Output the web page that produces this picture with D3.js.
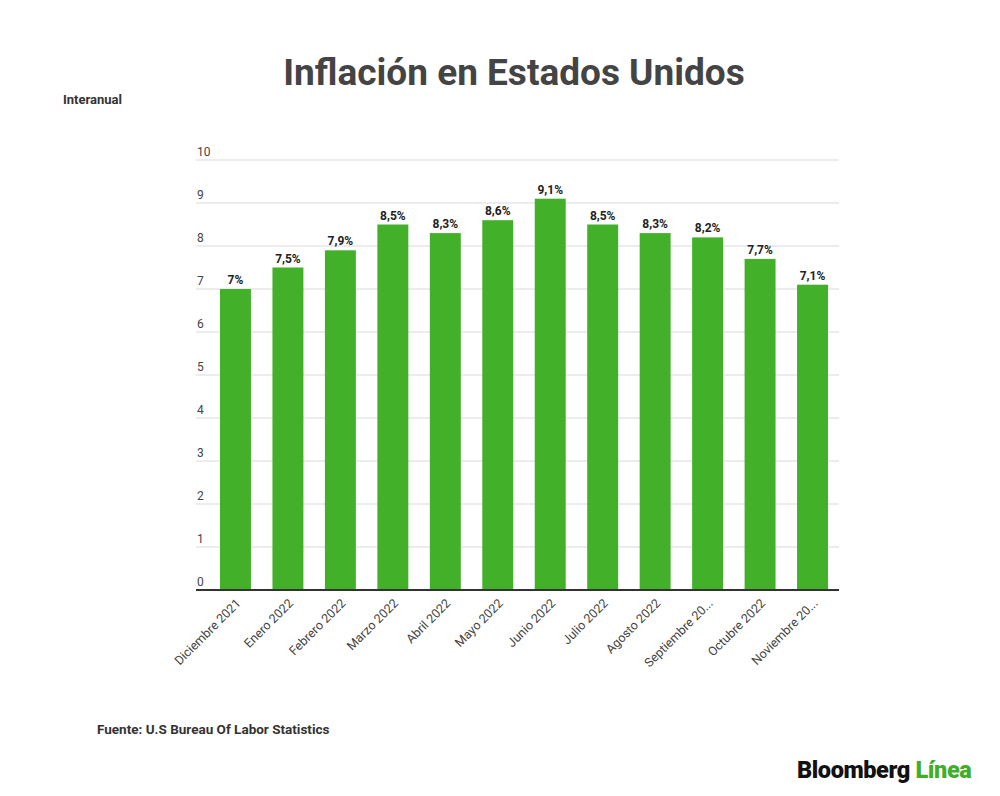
<!DOCTYPE html>
<html lang="es">
<head>
  <meta charset="UTF-8">
  <title>Inflación en Estados Unidos</title>
  <script src="https://d3js.org/d3.v7.min.js"></script>
  <style>
    body {
      margin: 0;
      padding: 0;
      background: #fff;
      font-family: Roboto, sans-serif;
    }
    svg text { font-family: Roboto, sans-serif; }
  </style>
</head>
<body>
  <div id="chart"></div>
  <script>
    // Datos
    const months = [
      "Diciembre 2021", "Enero 2022", "Febrero 2022", "Marzo 2022",
      "Abril 2022", "Mayo 2022", "Junio 2022", "Julio 2022",
      "Agosto 2022", "Septiembre 20...", "Octubre 2022", "Noviembre 20..."
    ];
    const inflation = [7.0, 7.5, 7.9, 8.5, 8.3, 8.6, 9.1, 8.5, 8.3, 8.2, 7.7, 7.1];
    const valueLabels = ["7%", "7,5%", "7,9%", "8,5%", "8,3%", "8,6%", "9,1%", "8,5%", "8,3%", "8,2%", "7,7%", "7,1%"];
    const yTicks = [0, 1, 2, 3, 4, 5, 6, 7, 8, 9, 10];

    const width = 1000, height = 796;
    const green = '#43b02a';

    const svg = d3.select('#chart')
      .append('svg')
      .attr('width', width)
      .attr('height', height);

    // Título y notas
    svg.append('text')
      .attr('x', 514)
      .attr('y', 85)
      .attr('text-anchor', 'middle')
      .attr('font-size', 37)
      .attr('font-weight', 700)
      .attr('fill', '#444')
      .text('Inflación en Estados Unidos');

    svg.append('text')
      .attr('x', 63)
      .attr('y', 104)
      .attr('font-size', 13)
      .attr('font-weight', 700)
      .attr('fill', '#333')
      .text('Interanual');

    svg.append('text')
      .attr('x', 97)
      .attr('y', 734)
      .attr('font-size', 13.5)
      .attr('font-weight', 700)
      .attr('fill', '#333')
      .text('Fuente: U.S Bureau Of Labor Statistics');

    const logo = svg.append('text')
      .attr('x', 797)
      .attr('y', 778)
      .attr('font-size', 23.5)
      .attr('font-weight', 900)
      .attr('letter-spacing', -0.4);
    logo.append('tspan').attr('fill', '#111').text('Bloomberg ');
    logo.append('tspan').attr('fill', '#3fae2a').text('Línea');

    // Escalas
    const gridLeft = 196, gridRight = 839;
    const y = d3.scaleLinear().domain([0, 10]).range([590, 160]);
    const x = d3.scaleBand()
      .domain(months)
      .range([209.5, 838.5])
      .paddingInner(0.41)
      .paddingOuter(0.2);

    // Rejilla y etiquetas del eje Y
    const grid = svg.append('g');
    grid.selectAll('line')
      .data(yTicks.filter(d => d > 0))
      .enter()
      .append('line')
      .attr('x1', gridLeft)
      .attr('x2', gridRight)
      .attr('y1', d => y(d))
      .attr('y2', d => y(d))
      .attr('stroke', '#d9d9d9')
      .attr('stroke-width', 1);

    grid.selectAll('text')
      .data(yTicks)
      .enter()
      .append('text')
      .attr('x', gridLeft + 1)
      .attr('y', d => y(d) - 4)
      .attr('font-size', 12)
      .attr('fill', '#444')
      .text(d => d);

    // Barras
    svg.append('g')
      .selectAll('rect')
      .data(inflation)
      .enter()
      .append('rect')
      .attr('x', (d, i) => x(months[i]))
      .attr('y', d => y(d))
      .attr('width', x.bandwidth())
      .attr('height', d => y(0) - y(d))
      .attr('fill', green);

    // Etiquetas de valor
    svg.append('g')
      .selectAll('text')
      .data(inflation)
      .enter()
      .append('text')
      .attr('x', (d, i) => x(months[i]) + x.bandwidth() / 2)
      .attr('y', d => y(d) - 5)
      .attr('text-anchor', 'middle')
      .attr('font-size', 12)
      .attr('font-weight', 700)
      .attr('fill', '#222')
      .text((d, i) => valueLabels[i]);

    // Eje X
    svg.append('line')
      .attr('x1', gridLeft)
      .attr('x2', gridRight)
      .attr('y1', y(0))
      .attr('y2', y(0))
      .attr('stroke', '#333')
      .attr('stroke-width', 2);

    const xAxis = svg.append('g')
      .attr('transform', `translate(0,${y(0)})`)
      .call(d3.axisBottom(x).tickSize(0).tickPadding(0));
    xAxis.select('.domain').remove();
    xAxis.selectAll('text')
      .attr('font-size', 12.5)
      .attr('fill', '#444')
      .attr('text-anchor', 'end')
      .attr('dy', 0)
      .attr('y', 0)
      .attr('transform', 'translate(6,14) rotate(-45)');
  </script>
</body>
</html>
